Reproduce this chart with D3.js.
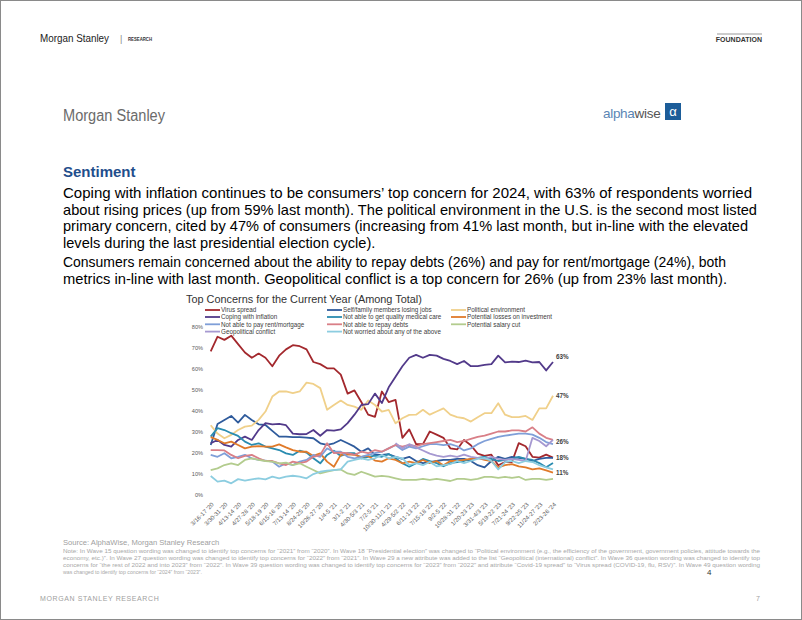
<!DOCTYPE html>
<html><head><meta charset="utf-8">
<script src="https://cdn.jsdelivr.net/npm/d3@7/dist/d3.min.js"></script>
<style>
body{margin:0;background:#fff}
svg{display:block;font-family:"Liberation Sans",Arial,sans-serif}
</style>
</head><body>
<svg id="c" width="802" height="620"></svg>
<script>
// ---------- DATA ----------
const tickLabels = ["3/16-17 '20","3/30-31 '20","4/13-14 '20","4/27-28 '20","5/18-19 '20","6/15-16 '20","7/13-14 '20","8/24-25 '20","10/26-27 '20","1/4-5 '21","3/1-2 '21","4/30-5/3 '21","7/2-5 '21","10/30-11/1 '21","4/29-5/2 '22","6/11-13 '22","7/15-18 '22","9/2-5 '22","10/28-31 '22","1/20-23 '23","3/31-4/3 '23","5/19-22 '23","7/21-24 '23","9/22-25 '23","11/24-27 '23","2/23-26 '24"];
const yTicks = [0,10,20,30,40,50,60,70,80];

const virusSpread = [68,75,73.5,75.5,71.5,67.5,65,67,65,61, 66,69,71,70.5,69,63,62,60,60,57, 48,49.5,44,38,37,49,44,45,27,31, 24,24,30,28.5,27,22,21.5,26,23.5,19.5, 18.4,19,14,15.5,15.5,24.5,23,18,17.6,19, 17.6];
const losingJobs = [23.6,33.6,35.5,37.4,34.2,37.9,35.5,33.4,33.1,30.3, 27.6,27.6,27.3,27.3,27.1,26.8,24.4,23.6,24.4,26, 24.4,22.8,20.4,22,18.9,18.9,19.2,18,17,18, 16,15,15.5,16,16.5,16.5,17,17,16,14, 13,16,18,17,18,17.5,17,16,17,17.5, 17.5];
const politicalEnv = [33,29,26.8,28.4,30.7,32.3,32.8,35.5,39.5,46.6, 49,49,48.2,49,53.2,52.6,50.6,40.3,42.6,44.7, 42.6,41.8,40.3,44.7,42.6,39.5,40.3,33.9,36.3,37.9, 38,40.3,38,39.5,41,38,36.8,36.3,34.7,36.8, 38.7,38.7,43.4,38,36.8,36.8,37.4,35.5,41,41, 47];
const copingInflation = [24.4,26,23.6,22.8,26,27.6,26,30.7,34,33.4, 33.6,33,29,28.7,28.8,30.7,28,30.7,30.4,31, 34,38,42.6,43,48,43.5,51,56,61,65, 66.4,65,66.4,66,64.5,63.5,62,63.5,61,61, 61.6,62,66,62.8,63.2,63,63.7,62.8,63,59, 63];
const medicalCare = [27.6,31.6,30.7,29.2,27.9,25.2,23.6,24.4,22.8,22, 21.2,19.6,18.9,20.9,20,17.3,14.9,18.9,20.9,18.4, 19.7,19.7,17.3,18,18.5,18,19.3,17.3,14.9,13.3, 15,17,16,15,13.5,15,15.5,16,17,17.5, 18,17,16,16.5,17,18,17,16.5,15,13, 15];
const investLosses = [27.3,26,24.4,25.2,23.6,22,22.8,23.1,22.8,22.8, 23.9,22.5,21.2,20.4,20.4,18.4,19.6,15.7,13.3,18.9, 19.2,18.9,18,18.4,16.2,15.7,17.3,16.5,14.9,15.7, 15,16.5,15,16,14,16,16,16.5,17,17.5, 16.5,16,13,14,14.5,13.5,13,12,12.5,11.5, 10.5];
const rentMortgage = [18.9,18,19.7,17.3,18,18.9,17.3,16.5,16.2,15.7, 13.3,14.9,14.1,15.7,16.5,18.9,18,22,20.4,20.4, 18,17.3,18,18.9,19.7,20.4,22,23.6,21.2,22.8, 22,23,24,24,23.5,24,23,21,22,24, 25.5,26.5,27.5,28,28.5,29,29,28.5,27,25, 24];
const repayDebts = [21.2,21.2,21,18.9,17.3,18.4,18.9,17.3,16,16, 14.9,14.1,15.7,15,15.7,18,18.9,24.4,19.7,20, 19.7,18.9,20.4,19.7,21.2,20.4,22,23.6,22.8,23.6, 23,24,24.5,25,25.5,26,25,25.5,26.5,27.5, 28,29,30,30,30.5,30.5,30,32,29,27, 26];
const salaryCut = [11.7,12.5,14.1,14.9,14.1,16.5,17.3,16.5,16,15.7, 14.9,15.2,14.1,14.9,13.3,11.7,10.1,10.9,11.7,12, 10.1,9.4,10.9,9.8,8.6,8.9,8.6,7.8,7,7, 7,7.5,7,7.5,7,6.5,7.5,7.5,7,7.5, 8.5,8.5,8,8.5,8,8.5,7,7.5,7.5,7, 7.5];
const geopolitical = [null,null,null,null,null,null,null,null,null,null, null,null,null,null,null,null,null,null,null,null, null,null,null,null,null,null,null,24.5,22,24, 22.5,21,19.5,18.5,18,18.5,18,19,18,17.5, 17,18,17,16.5,17,16.5,16,27,25.5,23, 26];
const notWorried = [8.9,6.2,6.7,5.4,7.4,6.7,7.3,7.8,7.3,8.6, 7.8,8.6,9,8.6,7.8,9.8,10.9,11.4,11.7,12, 15.7,16.5,17.3,16.5,17.3,18.9,17.3,18,17.3,14.1, 15,14,15.5,13.5,14,14.5,16,15,16,17, 17.5,16,12,15.5,16,15,16,15.5,14,13, 12];

const seriesNames = ["Virus spread","Self/family members losing jobs","Political environment","Coping with inflation","Not able to get quality medical care","Potential losses on investment","Not able to pay rent/mortgage","Not able to repay debts","Potential salary cut","Geopolitical conflict","Not worried about any of the above"];
const seriesValues = [virusSpread,losingJobs,politicalEnv,copingInflation,medicalCare,investLosses,rentMortgage,repayDebts,salaryCut,geopolitical,notWorried];
const seriesColors = ["#a3282d","#2f5b9c","#f0d08a","#523a8a","#2a8cb0","#e07a2a","#7f9fd8","#d97f87","#b3cc8e","#a699d1","#8ccde0"];

const endLabels = ["63%","47%","26%","18%","11%"];
const endLabelValues = [65.5,47,25.3,17.6,10.6];

// ---------- DRAW ----------
const svg = d3.select("#c");
svg.append("rect").attr("x",0.5).attr("y",0.5).attr("width",801).attr("height",619).attr("fill","#fff").attr("stroke","#8a8a8a");

// header
svg.append("text").attr("x",40).attr("y",42).attr("font-size",11.5).attr("fill","#222").attr("textLength",69).attr("lengthAdjust","spacingAndGlyphs").text("Morgan Stanley");
svg.append("text").attr("x",120).attr("y",42).attr("font-size",9).attr("fill","#888").text("|");
svg.append("text").attr("x",128).attr("y",40.5).attr("font-size",4.6).attr("font-weight","bold").attr("fill","#333").attr("textLength",24).attr("lengthAdjust","spacingAndGlyphs").text("RESEARCH");
svg.append("line").attr("x1",717).attr("x2",762).attr("y1",34).attr("y2",34).attr("stroke","#999").attr("stroke-width",1);
svg.append("text").attr("x",762).attr("y",41.5).attr("text-anchor","end").attr("font-size",7).attr("font-weight","bold").attr("fill","#333").text("FOUNDATION");

// logos
svg.append("text").attr("x",63).attr("y",121).attr("font-size",15.6).attr("fill","#6b6b6b").attr("textLength",102).attr("lengthAdjust","spacingAndGlyphs").text("Morgan Stanley");
const aw = svg.append("text").attr("x",603).attr("y",118).attr("font-size",13.5).attr("letter-spacing",-0.3);
aw.append("tspan").attr("fill","#5a86b5").text("alpha");
aw.append("tspan").attr("fill","#555").text("wise");
svg.append("rect").attr("x",665).attr("y",103).attr("width",16).attr("height",17).attr("fill","#1c5d99");
svg.append("text").attr("x",673).attr("y",116).attr("text-anchor","middle").attr("font-size",13).attr("fill","#fff").text("α");

// Sentiment
svg.append("text").attr("x",63).attr("y",177).attr("font-size",15).attr("font-weight","bold").attr("fill","#1f4e8c").text("Sentiment");

const para = [
 "Coping with inflation continues to be consumers’ top concern for 2024, with 63% of respondents worried",
 "about rising prices (up from 59% last month). The political environment in the U.S. is the second most listed",
 "primary concern, cited by 47% of consumers (increasing from 41% last month, but in-line with the elevated",
 "levels during the last presidential election cycle)."
];
const paraWidths = [689,694,685,null];
const para2 = [
 "Consumers remain concerned about the ability to repay debts (26%) and pay for rent/mortgage (24%), both",
 "metrics in-line with last month. Geopolitical conflict is a top concern for 26% (up from 23% last month)."
];
const para2Widths = [663,664];
para.forEach((t,i)=>{
  const el = svg.append("text").attr("x",63).attr("y",198+i*16.7).attr("font-size",14.6).attr("fill","#000").text(t);
  if(paraWidths[i]) el.attr("textLength",paraWidths[i]).attr("lengthAdjust","spacingAndGlyphs");
});
para2.forEach((t,i)=>svg.append("text").attr("x",63).attr("y",267+i*16.7).attr("font-size",14.2).attr("fill","#000")
  .attr("textLength",para2Widths[i]).attr("lengthAdjust","spacingAndGlyphs").text(t));

// chart
const x = d3.scaleLinear().domain([0,50]).range([210.7,553]);
const y = d3.scaleLinear().domain([0,80]).range([494.7,326.2]);

svg.append("text").attr("x",186).attr("y",303).attr("font-size",10.9).attr("fill","#333").text("Top Concerns for the Current Year (Among Total)");

// y axis labels
const yAxis = d3.axisLeft(y).tickValues(yTicks).tickFormat(d=>d+"%").tickSize(0).tickPadding(0);
const gy = svg.append("g").attr("transform","translate(203,0)").call(yAxis);
gy.select(".domain").remove();
gy.selectAll("text").attr("font-size",5.6).attr("fill","#595959").attr("font-family","Liberation Sans, Arial, sans-serif").attr("dy","0.35em");

// x axis labels
const xAxis = d3.axisBottom(x).tickValues(tickLabels.map((d,i)=>i*2)).tickFormat(d=>tickLabels[d/2]).tickSize(0).tickPadding(0);
const gx = svg.append("g").attr("transform","translate(0,503)").call(xAxis);
gx.select(".domain").remove();
gx.selectAll("text").attr("font-size",6).attr("fill","#595959").attr("font-family","Liberation Sans, Arial, sans-serif")
  .attr("text-anchor","end").attr("dy",0).attr("y",0).attr("transform","translate(3,2) rotate(-45)");

// lines
const line = d3.line().defined(d=>d!=null).x((d,i)=>x(i)).y(d=>y(d));
seriesValues.forEach((vals,k)=>{
  svg.append("path").datum(vals).attr("d",line).attr("fill","none")
    .attr("stroke",seriesColors[k]).attr("stroke-width",1.8).attr("stroke-linejoin","round");
});

// end labels
endLabels.forEach((t,i)=>svg.append("text").attr("x",556).attr("y",y(endLabelValues[i])).attr("dy","0.35em")
  .attr("font-size",6.3).attr("font-weight","bold").attr("fill","#404040").text(t));

// legend
const legCols = [205,327,451];
const legRows = [310,317,324.3,331.6];
seriesNames.forEach((n,k)=>{
  const c = k%3, r = Math.floor(k/3);
  const lx = legCols[c], ly = legRows[r];
  svg.append("line").attr("x1",lx).attr("x2",lx+15).attr("y1",ly).attr("y2",ly).attr("stroke",seriesColors[k]).attr("stroke-width",1.8);
  svg.append("text").attr("x",lx+16).attr("y",ly).attr("dy","0.35em").attr("font-size",6.3).attr("fill","#404040").text(n);
});

// source & notes
svg.append("text").attr("x",63).attr("y",545).attr("font-size",7.6).attr("fill","#a0a0a0").text("Source: AlphaWise, Morgan Stanley Research");
const notes = [
 "Note: In Wave 15 question wording was changed to identify top concerns for \u201c2021\u201d from \u201c2020\u201d. In Wave 18 \u201cPresidential election\u201d was changed to \u201cPolitical environment (e.g., the efficiency of the government, government policies, attitude towards the",
 "economy, etc.)\u201d. In Wave 27 question wording was changed to identify top concerns for \u201c2022\u201d from \u201c2021\u201d. In Wave 29 a new attribute was added to the list \u201cGeopolitical (international) conflict\u201d. In Wave 36 question wording was changed to identify top",
 "concerns for \u201cthe rest of 2022 and into 2023\u201d from \u201c2022\u201d. In Wave 39 question wording was changed to identify top concerns for \u201c2023\u201d from \u201c2022\u201d and attribute \u201cCovid-19 spread\u201d to \u201cVirus spread (COVID-19, flu, RSV)\u201d. In Wave 49 question wording",
 "was changed to identify top concerns for \u201c2024\u201d from \u201c2023\u201d."
];
notes.forEach((t,i)=>{
  const el = svg.append("text").attr("x",63).attr("y",553+i*7).attr("font-size",5.2).attr("fill","#a8a8a8").text(t);
  if(i<3) el.attr("textLength",697).attr("lengthAdjust","spacingAndGlyphs");
});
svg.append("text").attr("x",707).attr("y",575).attr("font-size",8).attr("fill","#333").text("4");

// footer
svg.append("text").attr("x",40).attr("y",601).attr("font-size",7).attr("fill","#a0a0a0").attr("letter-spacing",0.6).text("MORGAN STANLEY RESEARCH");
svg.append("text").attr("x",760).attr("y",601).attr("text-anchor","end").attr("font-size",7).attr("fill","#a0a0a0").text("7");
</script>
</body></html>
